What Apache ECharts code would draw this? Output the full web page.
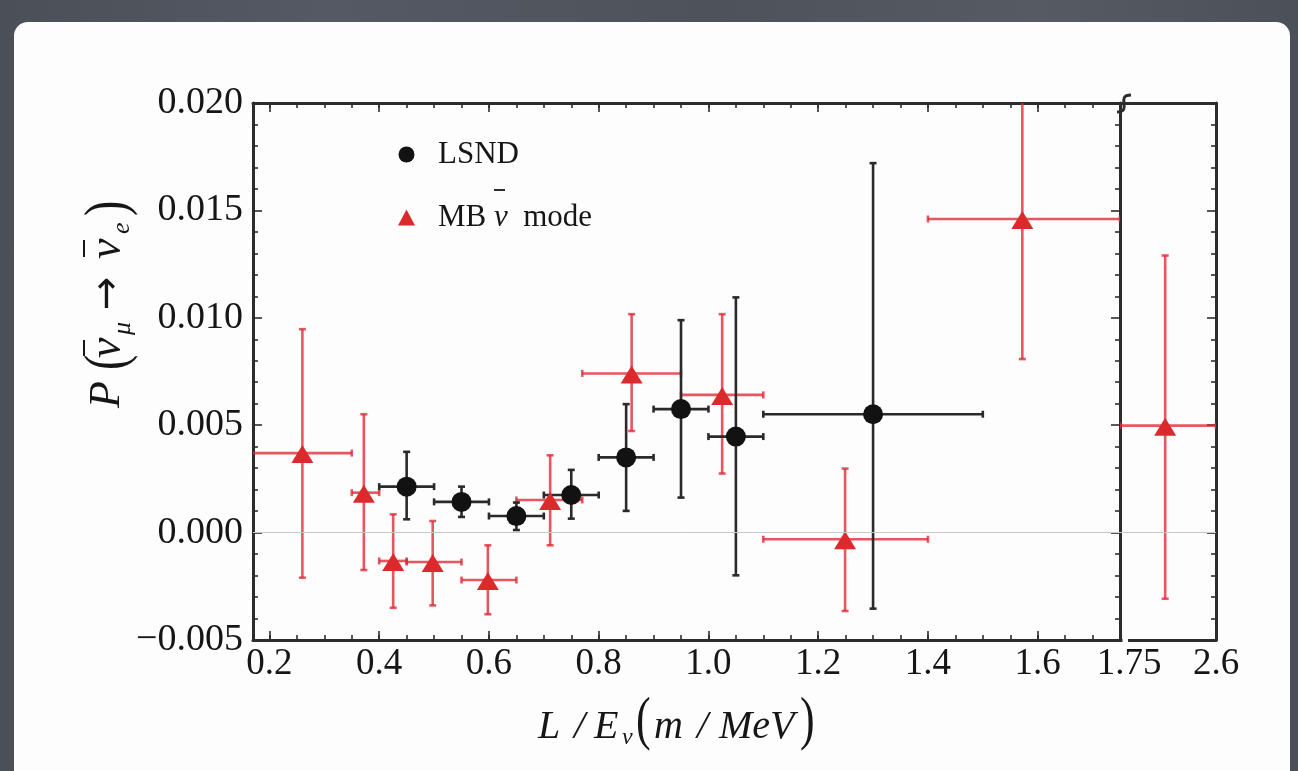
<!DOCTYPE html>
<html>
<head>
<meta charset="utf-8">
<script src="https://cdn.jsdelivr.net/npm/echarts@6/dist/echarts.min.js"></script>
<style>
  html, body { margin: 0; padding: 0; }
  body {
    width: 1298px; height: 771px; overflow: hidden; position: relative;
    background: linear-gradient(90deg, #4b4f58 0%, #555963 25%, #4e525b 55%, #565a63 80%, #4c5059 100%);
  }
  #panel {
    position: absolute; left: 14px; top: 22px; width: 1276px; height: 790px;
    background: #fdfdfd; border-radius: 14px;
  }
  #chart { position: absolute; left: 0; top: 0; width: 1298px; height: 771px; }
</style>
</head>
<body>
<div id="panel"></div>
<div id="chart"></div>
<script>
// LSND: bin centres, oscillation probability, bin edges and error limits
const lsndX    = [0.45, 0.55, 0.65, 0.75, 0.85, 0.95, 1.05, 1.30];
const lsndY    = [0.00214, 0.00143, 0.00077, 0.00175, 0.00350, 0.00575, 0.00447, 0.00551];
const lsndXLo  = [0.40, 0.50, 0.60, 0.70, 0.80, 0.90, 1.00, 1.10];
const lsndXHi  = [0.50, 0.60, 0.70, 0.80, 0.90, 1.00, 1.10, 1.50];
const lsndYLo  = [0.00062, 0.00073, 0.00012, 0.00065, 0.00101, 0.00163, -0.00199, -0.00354];
const lsndYHi  = [0.00376, 0.00214, 0.00140, 0.00292, 0.00598, 0.00989, 0.01095, 0.01720];

// MiniBooNE antineutrino mode, main panel
const mbX    = [0.26, 0.372, 0.4255, 0.4975, 0.598, 0.7115, 0.86, 1.025, 1.249, 1.572];
const mbY    = [0.00370, 0.00186, -0.00132, -0.00137, -0.00221, 0.00152, 0.00741, 0.00641, -0.00031, 0.01460];
const mbXLo  = [0.15, 0.35, 0.40, 0.45, 0.55, 0.65, 0.77, 0.95, 1.10, 1.40];
const mbXHi  = [0.35, 0.40, 0.45, 0.55, 0.65, 0.77, 0.95, 1.10, 1.40, 1.75];
const mbYLo  = [-0.00210, -0.00174, -0.00350, -0.00339, -0.00380, -0.00059, 0.00473, 0.00275, -0.00365, 0.00808];
const mbYHi  = [0.00947, 0.00551, 0.00085, 0.00054, -0.00059, 0.00360, 0.01017, 0.01017, 0.00298, 0.02050];

// MiniBooNE last bin, shown in the compressed panel beyond the axis break
const mbTailX   = [2.15];
const mbTailY   = [0.00498];
const mbTailXLo = [1.75];
const mbTailXHi = [2.60];
const mbTailYLo = [-0.00308];
const mbTailYHi = [0.01290];

// Axis ticks and labels
const xMajorTicks = [0.2, 0.4, 0.6, 0.8, 1.0, 1.2, 1.4, 1.6];
const xMinorTicks = [0.2, 0.25, 0.3, 0.35, 0.4, 0.45, 0.5, 0.55, 0.6, 0.65, 0.7, 0.75, 0.8, 0.85,
                     0.9, 0.95, 1.0, 1.05, 1.1, 1.15, 1.2, 1.25, 1.3, 1.35, 1.4, 1.45, 1.5, 1.55,
                     1.6, 1.65, 1.7];
const xLabels     = [0.2, 0.4, 0.6, 0.8, 1.0, 1.2, 1.4, 1.6, 1.75];
const xTailLabels = [2.6];
const yMin = -0.005, yMax = 0.020, yStep = 0.005;

const SERIF = '"Liberation Serif", "DejaVu Serif", serif';
const INK = '#161616';
const FRAME = '#2c2c2c';
const RED_BAR = 'rgba(222, 40, 52, 0.78)';
const RED = '#dc2a2c';
const BLACK_BAR = '#2a2a2a';
const BLACK = '#121212';

const rows = (xs, ys, xl, xh, yl, yh) => xs.map((x, i) => [x, ys[i], xl[i], xh[i], yl[i], yh[i]]);
const pts = (xs, ys) => xs.map((x, i) => [x, ys[i]]);

// Horizontal (bin width) and vertical (uncertainty) bars with small end caps
function errorBars(color) {
  return function (params, api) {
    const x = api.value(0), y = api.value(1);
    const c = api.coord([x, y]);
    const l = api.coord([api.value(2), y]);
    const r = api.coord([api.value(3), y]);
    const b = api.coord([x, api.value(4)]);
    const t = api.coord([x, api.value(5)]);
    const s = { stroke: color, lineWidth: 2.6 };
    const h = 3.5;
    const seg = (x1, y1, x2, y2) => ({ type: 'line', shape: { x1, y1, x2, y2 }, style: s });
    return {
      type: 'group',
      children: [
        seg(l[0], c[1], r[0], c[1]),
        seg(l[0], c[1] - h, l[0], c[1] + h),
        seg(r[0], c[1] - h, r[0], c[1] + h),
        seg(c[0], t[1], c[0], b[1]),
        seg(c[0] - h, t[1], c[0] + h, t[1]),
        seg(c[0] - h, b[1], c[0] + h, b[1])
      ]
    };
  };
}

const zeroLine = {
  silent: true, symbol: 'none', label: { show: false },
  lineStyle: { color: '#c8c8c8', width: 1, type: 'solid' },
  data: [{ yAxis: 0 }]
};

const tickStyle = { color: FRAME, width: 1.6 };
const lineStyle = { color: FRAME, width: 3 };

function xAxisDef(grid, pos, min, max, opts) {
  return Object.assign({
    type: 'value', gridIndex: grid, position: pos, min, max,
    axisLine: { show: false, onZero: false, lineStyle },
    axisTick: { show: false },
    axisLabel: { show: false },
    splitLine: { show: false }
  }, opts);
}
function yAxisDef(grid, pos, opts) {
  return Object.assign({
    type: 'value', gridIndex: grid, position: pos, min: yMin, max: yMax, interval: yStep,
    axisLine: { show: false, onZero: false, lineStyle },
    axisTick: { show: false },
    minorTick: { show: false },
    axisLabel: { show: false },
    splitLine: { show: false }
  }, opts);
}

const frameTicks = {
  axisLine: { show: true, onZero: false, lineStyle },
  axisTick: { show: true, inside: true, length: 9, lineStyle: tickStyle },
  minorTick: { show: true, splitNumber: 5, length: 5, lineStyle: tickStyle }
};

const fmtY = v => {
  const r = Math.round(v * 1000) / 1000;
  return (r < 0 ? '\u2212' : '') + Math.abs(r).toFixed(3);
};

function txt(text, x, y, size, italic, family) {
  return {
    type: 'text',
    style: {
      text, x, y,
      font: (italic ? 'italic ' : '') + size + 'px ' + (family || SERIF),
      fill: INK,
      textAlign: 'left', textVerticalAlign: 'middle',
      align: 'left', verticalAlign: 'middle'
    }
  };
}
// Tall, light delimiter: a smaller glyph stretched vertically about its own centre
function paren(text, x, y, size, stretch) {
  return {
    type: 'text', x, y, scaleY: stretch,
    style: {
      text, x: 0, y: 0, font: size + 'px ' + SERIF, fill: INK,
      textAlign: 'left', textVerticalAlign: 'middle', align: 'left', verticalAlign: 'middle'
    }
  };
}
function bar(x1, x2, y, w) {
  return { type: 'line', z: 100, shape: { x1, y1: y, x2, y2: y }, style: { stroke: INK, lineWidth: w || 2 } };
}

const MB_NAME = 'MB \u03bd mode';

const option = {
  animation: false,
  backgroundColor: 'transparent',
  grid: [
    { left: 253, top: 103, width: 867, height: 537 },
    { left: 1120, top: 103, width: 96, height: 537 }
  ],
  xAxis: [
    xAxisDef(0, 'bottom', 0.17, 1.75, {
      axisLine: { show: true, onZero: false, lineStyle },
      axisTick: { show: true, inside: true, length: 9, customValues: xMajorTicks, lineStyle: tickStyle },
      axisLabel: {
        show: true, customValues: xLabels, margin: 6, showMaxLabel: true, showMinLabel: true,
        fontFamily: SERIF, fontSize: 37, color: INK,
        formatter: v => (Math.abs(v - 1.75) < 1e-9 ? '{r|1.75}' : v.toFixed(1)),
        rich: { r: { fontFamily: SERIF, fontSize: 37, color: INK, padding: [0, 0, 0, 18] } }
      }
    }),
    xAxisDef(0, 'bottom', 0.17, 1.75, {
      axisTick: { show: true, inside: true, length: 5, customValues: xMinorTicks, lineStyle: tickStyle }
    }),
    xAxisDef(0, 'top', 0.17, 1.75, {
      axisLine: { show: true, onZero: false, lineStyle },
      axisTick: { show: true, inside: true, length: 9, customValues: xMajorTicks, lineStyle: tickStyle }
    }),
    xAxisDef(0, 'top', 0.17, 1.75, {
      axisTick: { show: true, inside: true, length: 5, customValues: xMinorTicks, lineStyle: tickStyle }
    }),
    xAxisDef(1, 'bottom', 1.75, 2.6, {
      axisLine: { show: true, onZero: false, lineStyle },
      axisLabel: {
        show: true, customValues: xTailLabels, margin: 6, showMaxLabel: true,
        fontFamily: SERIF, fontSize: 37, color: INK, formatter: v => v.toFixed(1)
      }
    }),
    xAxisDef(1, 'top', 1.75, 2.6, {
      axisLine: { show: true, onZero: false, lineStyle }
    })
  ],
  yAxis: [
    yAxisDef(0, 'left', Object.assign({}, frameTicks, {
      axisLabel: { show: true, margin: 10, fontFamily: SERIF, fontSize: 38, color: INK, formatter: fmtY }
    })),
    yAxisDef(0, 'right', frameTicks),
    yAxisDef(1, 'left', {}),
    yAxisDef(1, 'right', frameTicks)
  ],
  legend: {
    orient: 'vertical', left: 393, top: 134,
    itemWidth: 17, itemHeight: 16, itemGap: 32,
    selectedMode: false,
    data: [
      { name: 'LSND', icon: 'circle', itemStyle: { color: BLACK } },
      { name: MB_NAME, icon: 'triangle', itemStyle: { color: RED } }
    ],
    formatter: name => (name === 'LSND' ? '{n|LSND}' : '{n|MB }{v|\u03bd}{n|  mode}'),
    textStyle: {
      fontFamily: SERIF, fontSize: 31, color: INK, padding: [0, 0, 0, 18],
      rich: {
        n: { fontFamily: SERIF, fontSize: 31, color: INK },
        v: { fontFamily: SERIF, fontSize: 31, color: INK, fontStyle: 'italic' }
      }
    }
  },
  graphic: [
    // bar over the legend's nu
    bar(494, 505, 190, 1.8),
    // y-axis title, reading bottom to top
    {
      type: 'group', x: 121, y: 408, rotation: Math.PI / 2,
      children: [
        txt('P', 0, -14, 44, true),
        paren('(', 38, -12, 46, 1.3),
        txt('\u03bd', 50, -13, 46, true),
        bar(52, 68, -37),
        txt('\u03bc', 73, 2, 26, true),
        txt('\u2192', 98, -12, 40, false, '"DejaVu Sans", sans-serif'),
        txt('\u03bd', 149, -13, 46, true),
        bar(151, 168, -37),
        txt('e', 174, 1, 26, true),
        paren(')', 192, -12, 46, 1.3)
      ]
    },
    // x-axis title
    txt('L', 538, 727, 40, true),
    txt('/', 574, 727, 40, true),
    txt('E', 594, 727, 40, true),
    txt('\u03bd', 622, 738, 24, true),
    paren('(', 636, 722, 44, 1.35),
    txt('m', 654, 727, 40, true),
    txt('/', 697, 727, 40, true),
    txt('MeV', 719, 727, 40, true),
    paren(')', 800, 722, 44, 1.35),
    // axis break mark and the gap in the lower frame
    {
      type: 'bezierCurve', z: 100,
      shape: { x1: 1117, y1: 112, x2: 1131, y2: 95, cpx1: 1133, cpy1: 112, cpx2: 1115, cpy2: 95 },
      style: { stroke: FRAME, lineWidth: 3, fill: null }
    },
    { type: 'rect', z: 100, shape: { x: 1122.5, y: 636, width: 5.5, height: 8 }, style: { fill: '#fdfdfd' } }
  ],
  series: [
    {
      type: 'custom', name: MB_NAME, xAxisIndex: 0, yAxisIndex: 0, clip: true, silent: true, z: 2,
      itemStyle: { color: RED },
      renderItem: errorBars(RED_BAR),
      encode: { x: [0, 2, 3], y: [1, 4, 5] },
      data: rows(mbX, mbY, mbXLo, mbXHi, mbYLo, mbYHi),
      markLine: zeroLine
    },
    {
      type: 'custom', name: 'LSND', xAxisIndex: 0, yAxisIndex: 0, clip: true, silent: true, z: 2,
      itemStyle: { color: BLACK },
      renderItem: errorBars(BLACK_BAR),
      encode: { x: [0, 2, 3], y: [1, 4, 5] },
      data: rows(lsndX, lsndY, lsndXLo, lsndXHi, lsndYLo, lsndYHi)
    },
    {
      type: 'custom', name: MB_NAME, xAxisIndex: 4, yAxisIndex: 2, clip: true, silent: true, z: 2,
      itemStyle: { color: RED },
      renderItem: errorBars(RED_BAR),
      encode: { x: [0, 2, 3], y: [1, 4, 5] },
      data: rows(mbTailX, mbTailY, mbTailXLo, mbTailXHi, mbTailYLo, mbTailYHi),
      markLine: zeroLine
    },
    {
      type: 'scatter', name: MB_NAME, xAxisIndex: 0, yAxisIndex: 0, z: 3, silent: true,
      symbol: 'triangle', symbolSize: [22, 18], symbolOffset: [0, 1],
      itemStyle: { color: RED, opacity: 1 },
      data: pts(mbX, mbY)
    },
    {
      type: 'scatter', name: MB_NAME, xAxisIndex: 4, yAxisIndex: 2, z: 3, silent: true,
      symbol: 'triangle', symbolSize: [22, 18], symbolOffset: [0, 1],
      itemStyle: { color: RED, opacity: 1 },
      data: pts(mbTailX, mbTailY)
    },
    {
      type: 'scatter', name: 'LSND', xAxisIndex: 0, yAxisIndex: 0, z: 4, silent: true,
      symbol: 'circle', symbolSize: 20,
      itemStyle: { color: BLACK, opacity: 1 },
      data: pts(lsndX, lsndY)
    }
  ]
};

const chart = echarts.init(document.getElementById('chart'), null, { renderer: 'canvas' });
chart.setOption(option);
</script>
</body>
</html>
